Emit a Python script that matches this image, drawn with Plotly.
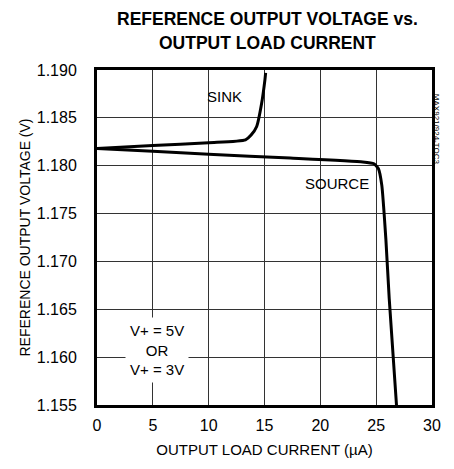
import plotly.graph_objects as go

sink_x = [0, 5, 10, 13.3, 13.8, 14.3, 14.74, 15.04, 15.1]
sink_y = [1.1818, 1.1821, 1.1824, 1.1827, 1.1832, 1.1841, 1.1865, 1.1890, 1.1897]
src_x = [0, 5, 10, 17.3, 23.8, 24.8, 25.2, 25.5, 25.87, 26.17, 26.82]
src_y = [1.1818, 1.1815, 1.1812, 1.1808, 1.1804, 1.1802, 1.1797, 1.1780, 1.1723, 1.1661, 1.1550]
x_ticks = [0, 5, 10, 15, 20, 25, 30]
y_ticks = [1.155, 1.160, 1.165, 1.170, 1.175, 1.180, 1.185, 1.190]
title_lines = ["REFERENCE OUTPUT VOLTAGE vs.", "OUTPUT LOAD CURRENT"]

FONT = "Liberation Sans, Arial, sans-serif"
W, H = 454, 469
ML, MR, MT, MB = 97, 22, 70, 62
PW, PH = W - ML - MR, H - MT - MB


def px_x(px):
    return (px - ML) / PW


def px_y(py):
    return 1 - (py - MT) / PH


fig = go.Figure()
fig.add_trace(go.Scatter(x=sink_x, y=sink_y, mode="lines", line=dict(color="black", width=3, shape="spline", smoothing=0.6), showlegend=False))
fig.add_trace(go.Scatter(x=src_x, y=src_y, mode="lines", line=dict(color="black", width=3, shape="spline", smoothing=0.4), showlegend=False))

fig.update_layout(
    width=W, height=H,
    margin=dict(l=ML, r=MR, t=MT, b=MB),
    paper_bgcolor="white", plot_bgcolor="white",
    font=dict(family=FONT, size=14, color="black"),
)
fig.update_xaxes(range=[0, 30], tickvals=x_ticks, ticktext=[str(v) for v in x_ticks],
                 showgrid=True, gridcolor="#333", gridwidth=1, zeroline=False,
                 showline=True, linecolor="black", linewidth=3, mirror=True,
                 ticks="", tickfont=dict(size=16), ticklabelstandoff=4,
                 title=dict(text="OUTPUT LOAD CURRENT (µA)", font=dict(size=15), standoff=12))
fig.update_yaxes(range=[1.155, 1.190], tickvals=y_ticks, ticktext=[f"{v:.3f}" for v in y_ticks],
                 showgrid=True, gridcolor="#333", gridwidth=1, zeroline=False,
                 showline=True, linecolor="black", linewidth=3, mirror=True,
                 ticks="", tickfont=dict(size=16), ticklabelstandoff=14,
                 title=dict(text="REFERENCE OUTPUT VOLTAGE (V)", font=dict(size=14), standoff=3))

for line, yc in zip(title_lines, [19, 43]):
    fig.add_annotation(x=px_x(267), y=px_y(yc), xref="paper", yref="paper", text=f"<b>{line}</b>",
                       showarrow=False, xanchor="center", yanchor="middle",
                       font=dict(size=17.5, family=FONT))

fig.add_annotation(x=11.45, y=1.1872, text="SINK", showarrow=False, font=dict(size=15))
fig.add_annotation(x=21.5, y=1.17815, text="SOURCE", showarrow=False, font=dict(size=15))
fig.add_annotation(x=5.4, y=1.1607, text="V+ = 5V<br>OR<br>V+ = 3V", showarrow=False,
                   font=dict(size=15), bgcolor="white", borderpad=4)
fig.add_annotation(x=px_x(443), y=px_y(92), xref="paper", yref="paper", text="MAX921/924-TOC3",
                   showarrow=False, textangle=90, font=dict(size=8))

fig.write_html("out.html", config={"displayModeBar": False},
               post_script="document.body.style.margin='0';document.body.style.padding='0';document.body.style.overflow='hidden';")
